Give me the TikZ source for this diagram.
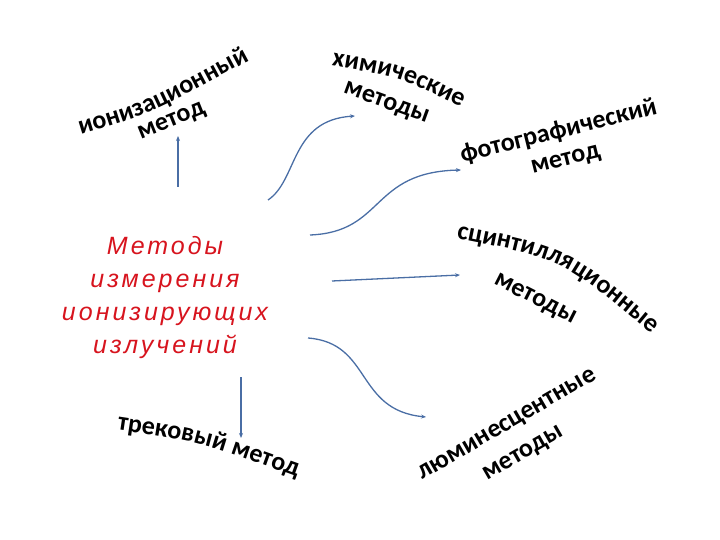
\documentclass[tikz,border=0pt]{standalone}
\usepackage{fontspec}
\setmainfont{Carlito}
\newfontfamily\redfont[LetterSpace=12]{Liberation Sans}
\usetikzlibrary{arrows.meta,decorations.text}
\definecolor{arrowblue}{RGB}{74,110,165}
\definecolor{titlered}{RGB}{215,20,30}
\newcommand{\bigbold}{\fontsize{26}{29}\selectfont\bfseries}
\tikzset{
  conn/.style={draw=arrowblue, line width=1.3pt, -{Stealth[length=5pt,width=4pt]}},
  lbl/.style={font=\bigbold, inner sep=0pt, text=black, align=center},
  arctext/.style={decorate, decoration={text along path, text align=center, text={|\bigbold|#1}}}
}
\begin{document}
\begin{tikzpicture}[x=1pt,y=-1pt]
\useasboundingbox (0,0) rectangle (720,540);
% central title
\node[text=titlered, font=\redfont\itshape\fontsize{25}{33}\selectfont, align=center, inner sep=0pt] (main) at (165,298)
  {Методы\\измерения\\ионизирующих\\излучений};
% curved labels
\path[arctext={ионизационный}] (84,134) .. controls (150,114) .. (247,62);
\node[lbl, rotate=22] (ion2) at (172,122) {метод};
\path[arctext={химические}] (333,66) .. controls (395,76) .. (460,106);
\node[lbl, rotate=-20] (chem2) at (386,104) {методы};
\node[lbl, rotate=14, font=\fontsize{26}{28}\selectfont\bfseries] (foto) at (562,145) {фотографический\\метод};
\path[arctext={сцинтилляционные}] (456,238) .. controls (562,259) .. (652,334);
\node[lbl, rotate=-27] (scin2) at (535,300) {методы};
\path[arctext={трековый метод}] (120,430) .. controls (200,442) .. (294,476);
\node[lbl, rotate=30, font=\fontsize{26}{33}\selectfont\bfseries] (lum) at (516,440) {люминесцентные\\методы};
% connector ends
\coordinate (a1s) at (178,187); \coordinate (a1e) at (178,136);
\coordinate (a2s) at (268,200); \coordinate (a2e) at (355,116);
\coordinate (a3s) at (310,235); \coordinate (a3e) at (461,170);
\coordinate (a4s) at (332,281); \coordinate (a4e) at (460,275);
\coordinate (a5s) at (308,338); \coordinate (a5e) at (426,417);
\coordinate (a6s) at (241,377); \coordinate (a6e) at (241,438);
% connectors
\draw[conn] (a1s) -- (a1e);
\draw[conn] (a2s) .. controls (298,180) and (290,120) .. (a2e);
\draw[conn] (a3s) .. controls (385,232) and (370,172) .. (a3e);
\draw[conn] (a4s) -- (a4e);
\draw[conn] (a5s) .. controls (372,343) and (355,410) .. (a5e);
\draw[conn] (a6s) -- (a6e);
\end{tikzpicture}
\end{document}
